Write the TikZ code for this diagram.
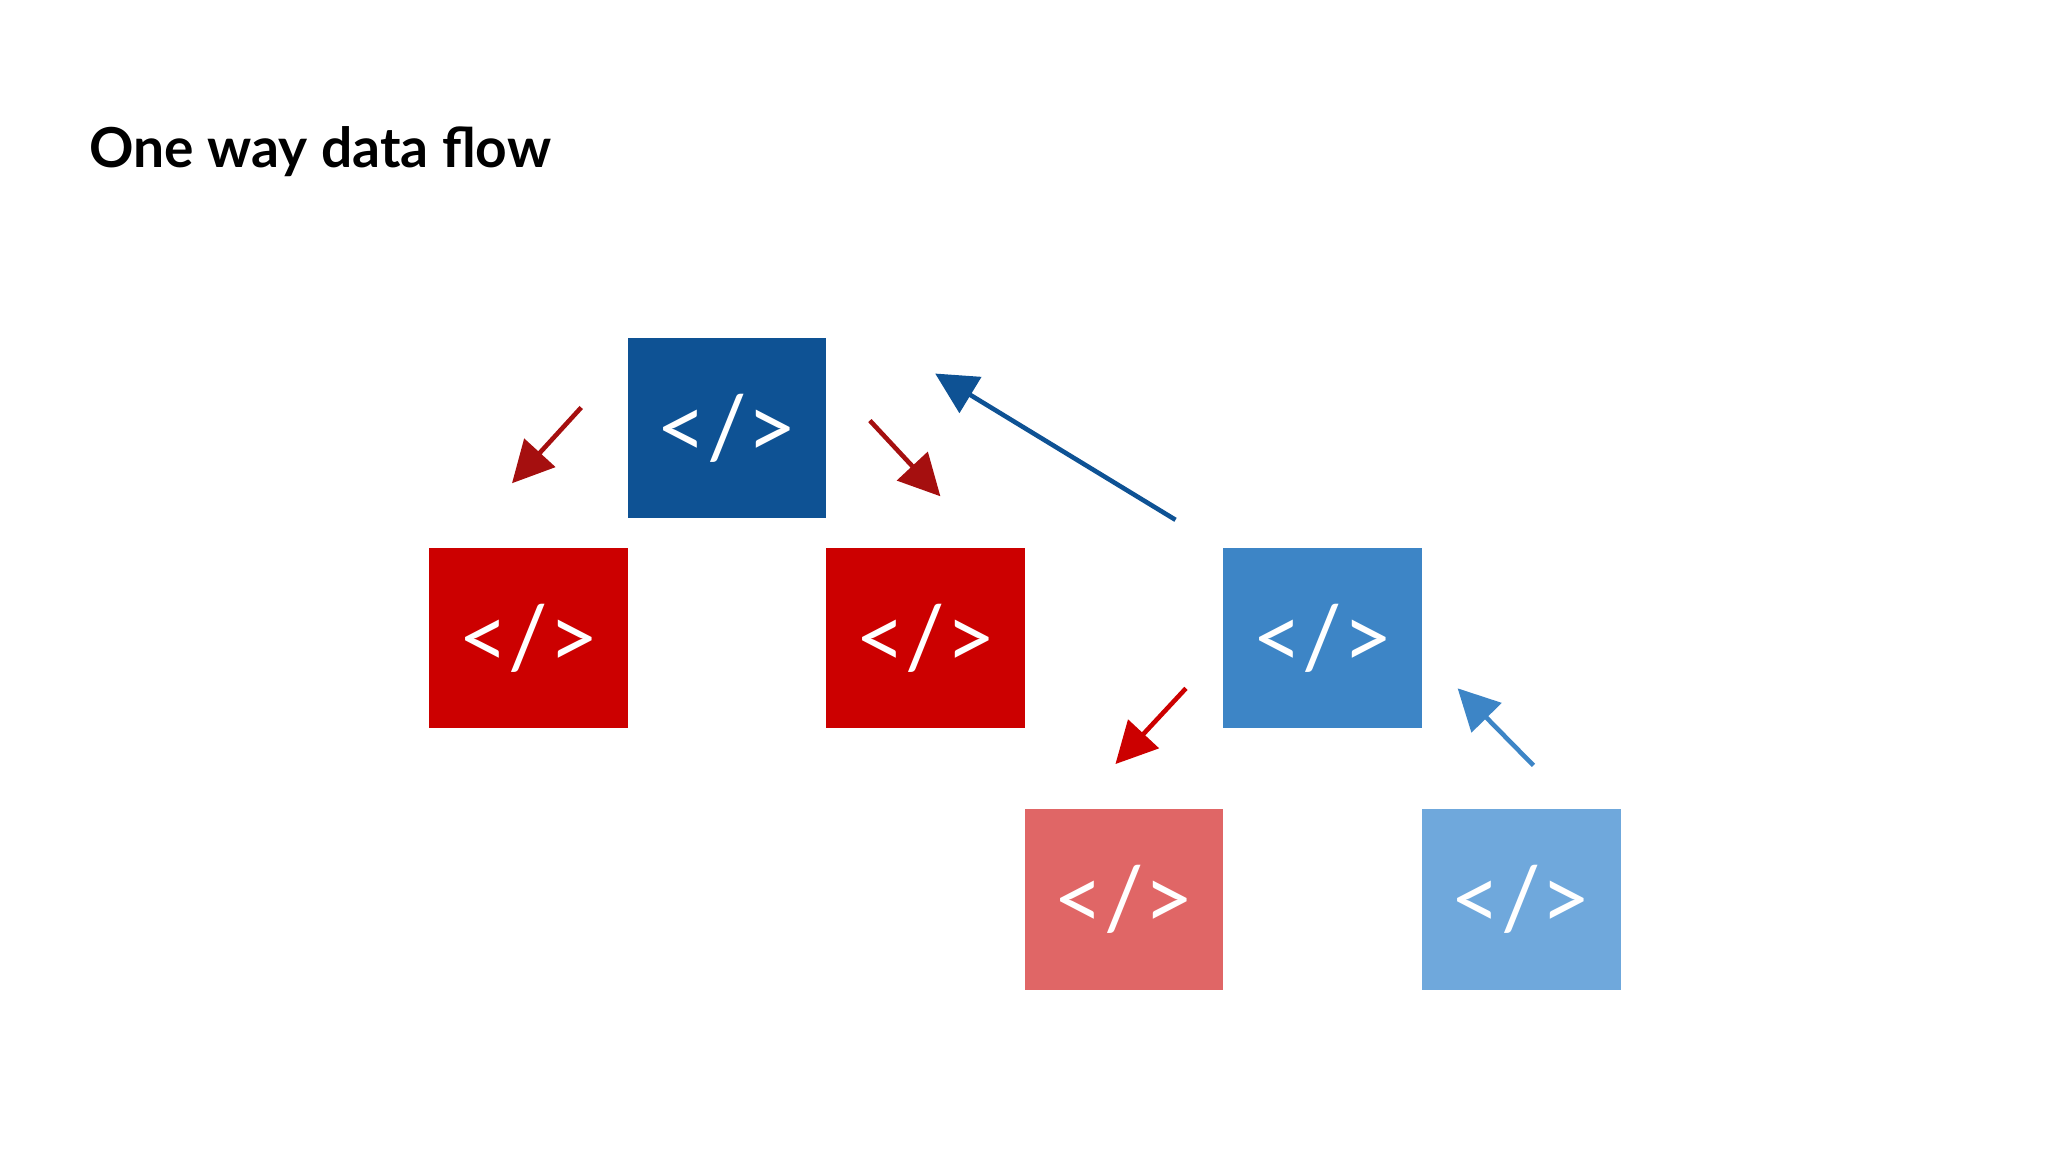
\documentclass[tikz,border=0pt]{standalone}
\usepackage{fontspec}
\setmainfont{Lato}
\usetikzlibrary{arrows.meta}
\definecolor{dblue}{HTML}{0E5294}
\definecolor{mblue}{HTML}{3D85C6}
\definecolor{lblue}{HTML}{6FA8DC}
\definecolor{red1}{HTML}{CC0000}
\definecolor{pink1}{HTML}{E06666}
\definecolor{dred}{HTML}{A50F0F}
\tikzset{
 comp/.style={minimum width=152*0.01cm, minimum height=138*0.01cm, inner sep=0pt, text=white, font=\fontsize{19}{20}\selectfont, anchor=north west},
 flow/.style={line width=1pt, -{Triangle[length=9pt,width=9pt]}}
}
\begin{document}
\begin{tikzpicture}[x=0.01cm,y=-0.01cm]
\useasboundingbox (0,0) rectangle (1568,882);
\node[anchor=base west, font=\bfseries\fontsize{12}{14}\selectfont, inner sep=0pt] (title) at (68,128) {One way data flow};
\node[comp, fill=dblue] (top) at (480,258) {</>};
\node[comp, fill=red1] (r1) at (328,419) {</>};
\node[comp, fill=red1] (r2) at (632,419) {</>};
\node[comp, fill=mblue] (b2) at (936,419) {</>};
\node[comp, fill=pink1] (p) at (784,619) {</>};
\node[comp, fill=lblue] (lb) at (1088,619) {</>};
\coordinate (a1s) at (445,312); \coordinate (a1e) at (392,370);
\coordinate (a2s) at (666,322); \coordinate (a2e) at (720,380);
\coordinate (a3s) at (900,398); \coordinate (a3e) at (716,286);
\coordinate (a4s) at (908,527); \coordinate (a4e) at (854,585);
\coordinate (a5s) at (1174,586); \coordinate (a5e) at (1116,527);
\draw[flow, dred] (a1s) -- (a1e);
\draw[flow, dred] (a2s) -- (a2e);
\draw[flow, dblue] (a3s) -- (a3e);
\draw[flow, red1] (a4s) -- (a4e);
\draw[flow, mblue] (a5s) -- (a5e);
\end{tikzpicture}
\end{document}
